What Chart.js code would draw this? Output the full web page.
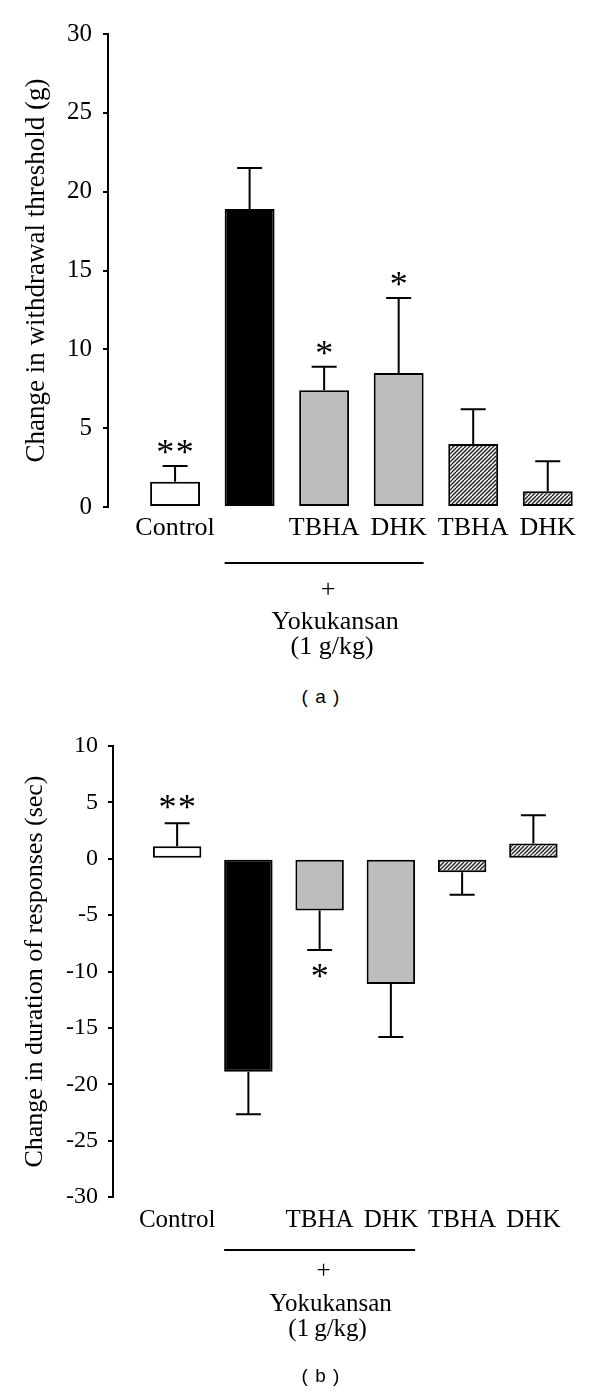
<!DOCTYPE html>
<html lang="en">
<head>
  <meta charset="UTF-8" />
  <title>Yokukansan withdrawal threshold and response duration</title>
  <script src="https://cdn.jsdelivr.net/npm/chart.js@4"></script>
  <style>
    body { margin: 0; background: #fff; }
    .page { position: relative; width: 600px; height: 1394px; }
    canvas { position: absolute; left: 0; }
    .caption { position: absolute; width: 80px; text-align: center; font: 19px "Liberation Sans", sans-serif; letter-spacing: 1px; color: #000; }
  </style>
</head>
<body>
  <div class="page">
    <canvas id="thresholdChart" width="600" height="670" style="top:0"></canvas>
    <div class="caption" style="left:281px; top:686px">( a )</div>
    <canvas id="durationChart" width="600" height="660" style="top:710px"></canvas>
    <div class="caption" style="left:281px; top:1365px">( b )</div>
  </div>

  <script>
    // groups along the x axis (second bar is Yokukansan alone, no label)
    const groups = ['Control', '', 'TBHA', 'DHK', 'TBHA', 'DHK'];

    // (a) change in withdrawal threshold (g)
    const thresholdValues = [1.6, 18.9, 7.4, 8.5, 4.0, 1.0];
    const thresholdErrors = [1.0, 2.6, 1.5, 4.75, 2.2, 1.9];
    const thresholdMarks = ['**', '', '*', '*', '', ''];
    const thresholdTicks = [0, 5, 10, 15, 20, 25, 30];

    // (b) change in duration of responses (sec)
    const durationValues = [1.1, -18.9, -4.6, -11.1, -1.2, 1.35];
    const durationErrors = [2.05, 3.75, 3.5, 4.7, 2.0, 2.5];
    const durationMarks = ['**', '', '*', '', '', ''];
    const durationTicks = [-30, -25, -20, -15, -10, -5, 0, 5, 10];

    const serif = '"Liberation Serif", "Times New Roman", serif';

    function makeHatch() {
      const c = document.createElement('canvas');
      c.width = 8; c.height = 8;
      const g = c.getContext('2d');
      g.fillStyle = '#f2f2f2';
      g.fillRect(0, 0, 8, 8);
      g.strokeStyle = '#222';
      g.lineWidth = 1.3;
      for (let k = -8; k <= 16; k += 4) {
        g.beginPath();
        g.moveTo(k, 8);
        g.lineTo(k + 8, 0);
        g.stroke();
      }
      return g.createPattern(c, 'repeat');
    }

    // draw text so that its glyphs are centred on (x, cy)
    function centredText(ctx, text, x, cy) {
      const m = ctx.measureText(text);
      const asc = m.actualBoundingBoxAscent, desc = m.actualBoundingBoxDescent;
      ctx.textAlign = 'center';
      ctx.textBaseline = 'alphabetic';
      ctx.fillText(text, x, cy + (asc - desc) / 2);
    }

    function errorBars(values, errors, marks, p) {
      return {
        id: 'errorBars',
        afterDatasetsDraw(chart) {
          const { ctx, scales: { y } } = chart;
          const bars = chart.getDatasetMeta(0).data;
          ctx.save();
          ctx.strokeStyle = '#000';
          ctx.fillStyle = '#000';
          ctx.lineWidth = 2;
          ctx.font = p.starSize + 'px ' + serif;
          bars.forEach((bar, i) => {
            const s = values[i] < 0 ? -1 : 1;
            const y0 = y.getPixelForValue(values[i]);
            const y1 = y.getPixelForValue(values[i] + s * errors[i]);
            ctx.beginPath();
            ctx.moveTo(bar.x, y0);
            ctx.lineTo(bar.x, y1);
            ctx.moveTo(bar.x - p.cap / 2, y1);
            ctx.lineTo(bar.x + p.cap / 2, y1);
            ctx.stroke();
            const n = marks[i].length;
            for (let k = 0; k < n; k++) {
              const sx = bar.x + (k - (n - 1) / 2) * p.starGap;
              centredText(ctx, '*', sx, y1 - s * p.starOff);
            }
          });
          ctx.restore();
        }
      };
    }

    function yokukansanNote(p) {
      return {
        id: 'yokukansanNote',
        afterDraw(chart) {
          const { ctx, chartArea, scales: { x } } = chart;
          const bars = chart.getDatasetMeta(0).data;
          const half = bars[1].width / 2;
          const x0 = x.getPixelForValue(1) - half;
          const x1 = x.getPixelForValue(3) + half;
          const mid = (x0 + x1) / 2;
          const b = chartArea.bottom;
          ctx.save();
          ctx.strokeStyle = '#000';
          ctx.lineWidth = 2;
          ctx.beginPath();
          ctx.moveTo(x0, b + p.line);
          ctx.lineTo(x1, b + p.line);
          ctx.stroke();
          ctx.fillStyle = '#000';
          ctx.font = p.font + 'px ' + serif;
          centredText(ctx, '+', mid + 4, b + p.plus);
          centredText(ctx, 'Yokukansan', mid + 11, b + p.name);
          centredText(ctx, p.dose, mid + 8, b + p.dose2);
          ctx.restore();
        }
      };
    }

    function panel(id, values, errors, marks, ticks, p) {
      const hatch = makeHatch();
      new Chart(document.getElementById(id), {
        type: 'bar',
        data: {
          datasets: [{
            data: values.map((v, i) => ({ x: i, y: v })),
            backgroundColor: ['#ffffff', '#000000', '#bdbdbd', '#bdbdbd', hatch, hatch],
            borderColor: '#000',
            borderWidth: 2,
            borderSkipped: false,
            barPercentage: p.barPct,
            categoryPercentage: 1
          }]
        },
        options: {
          responsive: false,
          animation: false,
          layout: { padding: p.padding },
          plugins: { legend: { display: false }, tooltip: { enabled: false } },
          scales: {
            x: {
              type: 'linear',
              offset: false,
              min: -0.9,
              max: 5.5,
              grid: { display: false, drawTicks: false, offset: false },
              border: { display: false },
              afterBuildTicks: a => { a.ticks = groups.map((_, i) => ({ value: i })); },
              afterFit: a => { a.height = 40; },
              ticks: {
                autoSkip: false, maxRotation: 0, minRotation: 0,
                padding: p.labelPad, color: '#000',
                font: { family: serif, size: p.labelSize },
                callback: v => groups[v] ?? ''
              }
            },
            y: {
              type: 'linear',
              min: ticks[0],
              max: ticks[ticks.length - 1],
              afterBuildTicks: a => { a.ticks = ticks.map(v => ({ value: v })); },
              afterFit: a => { a.width = p.axisLeft; },
              grid: { display: true, drawOnChartArea: false, drawTicks: true, tickLength: 5, color: '#000', lineWidth: 2 },
              border: { display: true, color: '#000', width: 2 },
              ticks: { color: '#000', padding: p.tickPad, font: { family: serif, size: p.tickSize } },
              title: {
                display: true, text: p.title, color: '#000',
                font: { family: serif, size: p.titleSize },
                padding: { top: p.titlePad, bottom: 0 }
              }
            }
          }
        },
        plugins: [errorBars(values, errors, marks, p), yokukansanNote(p)]
      });
    }

    panel('thresholdChart', thresholdValues, thresholdErrors, thresholdMarks, thresholdTicks, {
      title: 'Change in withdrawal threshold (g)',
      padding: { top: 34, right: 15, bottom: 123, left: 0 },
      axisLeft: 108, barPct: 0.67, cap: 25,
      tickSize: 25, tickPad: 11, labelSize: 26, labelPad: 6,
      titleSize: 27, titlePad: 21,
      starSize: 36, starGap: 19.5, starOff: 19,
      font: 26, dose: '(1 g/kg)', line: 56, plus: 81, name: 113, dose2: 141
    });

    panel('durationChart', durationValues, durationErrors, durationMarks, durationTicks, {
      title: 'Change in duration of responses (sec)',
      padding: { top: 36, right: 31, bottom: 133, left: 0 },
      axisLeft: 113, barPct: 0.68, cap: 25,
      tickSize: 24, tickPad: 10, labelSize: 25, labelPad: 8,
      titleSize: 26, titlePad: 20,
      starSize: 36, starGap: 19.5, starOff: 21,
      font: 25, dose: '(1\u2009g/kg)', line: 53, plus: 72, name: 105, dose2: 133
    });
  </script>
</body>
</html>
